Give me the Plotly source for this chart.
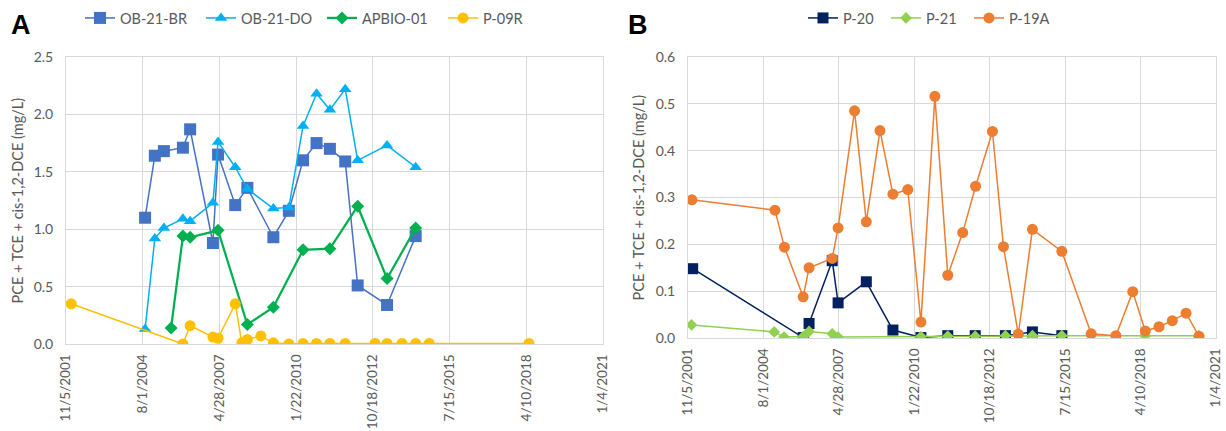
import pandas as pd
import plotly.graph_objects as go

# ---------------- data (dates as Excel serial day numbers) ----------------
ob21br_dates = [38231, 38358, 38476, 38724, 38818, 39115, 39182, 39406, 39564, 39903,
                40105, 40290, 40466, 40640, 40840, 41002, 41385, 41758]
ob21br = [1.10, 1.64, 1.68, 1.71, 1.87, 0.88, 1.65, 1.21, 1.36, 0.93,
          1.16, 1.60, 1.75, 1.70, 1.59, 0.51, 0.34, 0.94]

ob21do_dates = [38231, 38358, 38476, 38724, 38818, 39115, 39182, 39406, 39564, 39903,
                40105, 40290, 40466, 40640, 40840, 41002, 41385, 41758]
ob21do = [0.13, 0.92, 1.01, 1.09, 1.07, 1.23, 1.76, 1.54, 1.35, 1.18,
          1.19, 1.90, 2.18, 2.04, 2.22, 1.60, 1.73, 1.54]

apbio_dates = [38570, 38724, 38818, 39182, 39564, 39903, 40290, 40640, 41002, 41385, 41758]
apbio = [0.14, 0.94, 0.93, 0.99, 0.17, 0.32, 0.82, 0.83, 1.20, 0.57, 1.01]

p09r_dates = [37268, 38724, 38818, 39115, 39182, 39406, 39492, 39564, 39740, 39903,
              40105, 40290, 40466, 40640, 40840, 41228, 41385, 41580, 41758, 41935, 43235]
p09r = [0.35, 0.00, 0.16, 0.06, 0.05, 0.35, 0.01, 0.04, 0.07, 0.01,
        0.00, 0.005, 0.005, 0.005, 0.005, 0.005, 0.005, 0.005, 0.005, 0.005, 0.005]

p20_dates = [37262, 38727, 38805, 39112, 39190, 39564, 39917, 40288, 40644, 41008,
             41408, 41766, 42156]
p20 = [0.148, 0.001, 0.031, 0.165, 0.075, 0.120, 0.017, 0.001, 0.005, 0.005,
       0.005, 0.013, 0.005]

p21_dates = [37247, 38343, 38473, 38727, 38805, 39112, 39190, 40288, 40644, 41008,
             41408, 41766, 42156, 43262, 43974]
p21 = [0.028, 0.013, 0.002, 0.003, 0.014, 0.009, 0.002, 0.003, 0.004, 0.004,
       0.005, 0.005, 0.005, 0.005, 0.005]

p19a_dates = [37252, 38353, 38478, 38727, 38805, 39112, 39190, 39408, 39564, 39745,
              39917, 40114, 40288, 40473, 40644, 40842, 41013, 41236, 41382, 41579,
              41766, 42156, 42545, 42873, 43096, 43262, 43444, 43621, 43803, 43974]
p19a = [0.295, 0.273, 0.194, 0.088, 0.150, 0.170, 0.235, 0.485, 0.248, 0.443,
        0.307, 0.317, 0.034, 0.516, 0.134, 0.225, 0.324, 0.441, 0.195, 0.008,
        0.232, 0.185, 0.009, 0.005, 0.099, 0.015, 0.024, 0.037, 0.053, 0.004]

tick_serials = [37200, 38200, 39200, 40200, 41200, 42200, 43200, 44200]
tick_labels = ["11/5/2001", "8/1/2004", "4/28/2007", "1/22/2010",
               "10/18/2012", "7/15/2015", "4/10/2018", "1/4/2021"]

ORIGIN = pd.Timestamp("1899-12-30")


def to_dates(serials):
    return pd.to_datetime(pd.Series(serials), unit="D", origin=ORIGIN)


TXT = "#595959"
GRID = "#D9D9D9"
FONT = "Lato, 'Open Sans', sans-serif"

fig = go.Figure()


def add(xs, ys, name, color, symbol, size, width, xa, ya, legend):
    fig.add_trace(go.Scatter(
        x=to_dates(xs), y=ys, name=name, mode="lines+markers",
        line=dict(color=color, width=width),
        marker=dict(color=color, symbol=symbol, size=size, line=dict(width=0)),
        xaxis=xa, yaxis=ya, legend=legend))


add(ob21br_dates, ob21br, "OB-21-BR", "#4472C4", "square", 12, 1.5, "x", "y", "legend")
add(ob21do_dates, ob21do, "OB-21-DO", "#00B0F0", "triangle-up", 11, 1.5, "x", "y", "legend")
add(apbio_dates, apbio, "APBIO-01", "#00B050", "diamond", 10, 2.25, "x", "y", "legend")
add(p09r_dates, p09r, "P-09R", "#FFC000", "circle", 11, 1.5, "x", "y", "legend")

add(p20_dates, p20, "P-20", "#002060", "square", 11, 1.5, "x2", "y2", "legend2")
add(p21_dates, p21, "P-21", "#92D050", "diamond", 9, 1.5, "x2", "y2", "legend2")
add(p19a_dates, p19a, "P-19A", "#ED7D31", "circle", 11, 1.5, "x2", "y2", "legend2")

W, H = 1226, 431
tickvals = list(to_dates(tick_serials))
xrange = [tickvals[0], tickvals[-1]]

xcommon = dict(type="date", range=xrange, tickmode="array", tickvals=tickvals,
               ticktext=tick_labels, tickangle=-90, showgrid=True, gridcolor=GRID,
               gridwidth=1, showline=True, linecolor=GRID, linewidth=1, mirror=True,
               ticks="", zeroline=False, automargin=False, ticklabelstandoff=4,
               tickfont=dict(family=FONT, size=13.5, color=TXT))
ycommon = dict(showgrid=True, gridcolor=GRID, gridwidth=1, showline=True,
               linecolor=GRID, linewidth=1, mirror=True, ticks="", zeroline=False,
               automargin=False, tickformat=".1f", ticklabelstandoff=9,
               tickfont=dict(family=FONT, size=14, color=TXT))

LEGFONT = dict(family=FONT, size=14.5, color=TXT)

fig.update_layout(
    width=W, height=H, margin=dict(l=0, r=0, t=0, b=0),
    paper_bgcolor="white", plot_bgcolor="white",
    font=dict(family=FONT, color=TXT, size=12),
    xaxis=dict(domain=[66 / W, 603 / W], anchor="y", **xcommon),
    yaxis=dict(domain=[1 - 344 / H, 1 - 57 / H], anchor="x", range=[0, 2.5], dtick=0.5,
               **ycommon),
    xaxis2=dict(domain=[688 / W, 1216 / W], anchor="y2", **xcommon),
    yaxis2=dict(domain=[1 - 338 / H, 1 - 57 / H], anchor="x2", range=[0, 0.6], dtick=0.1,
                **ycommon),
    legend=dict(orientation="h", x=80 / W, y=1 - 18 / H, xanchor="left", yanchor="middle",
                font=LEGFONT, bgcolor="rgba(0,0,0,0)",
                itemwidth=30, entrywidth=76, entrywidthmode="pixels"),
    legend2=dict(orientation="h", x=803 / W, y=1 - 18 / H, xanchor="left", yanchor="middle",
                 font=LEGFONT, bgcolor="rgba(0,0,0,0)",
                 itemwidth=30, entrywidth=38, entrywidthmode="pixels"),
    showlegend=True,
)

ytitle = "PCE + TCE + cis-1,2-DCE (mg/L)"
for xp, yc in [(17, (57 + 344) / 2), (638, (57 + 338) / 2)]:
    fig.add_annotation(text=ytitle, textangle=-90, x=xp / W, y=1 - yc / H,
                       xref="paper", yref="paper", showarrow=False,
                       xanchor="center", yanchor="middle",
                       font=dict(family=FONT, size=14.5, color=TXT))

for lab, xp in [("A", 21), ("B", 638)]:
    fig.add_annotation(text="<b>%s</b>" % lab, x=xp / W, y=1 - 25 / H,
                       xref="paper", yref="paper", showarrow=False,
                       xanchor="center", yanchor="middle",
                       font=dict(family="Liberation Sans, Arial, sans-serif", size=27,
                                 color="black"))

fig.write_html("out.html")
